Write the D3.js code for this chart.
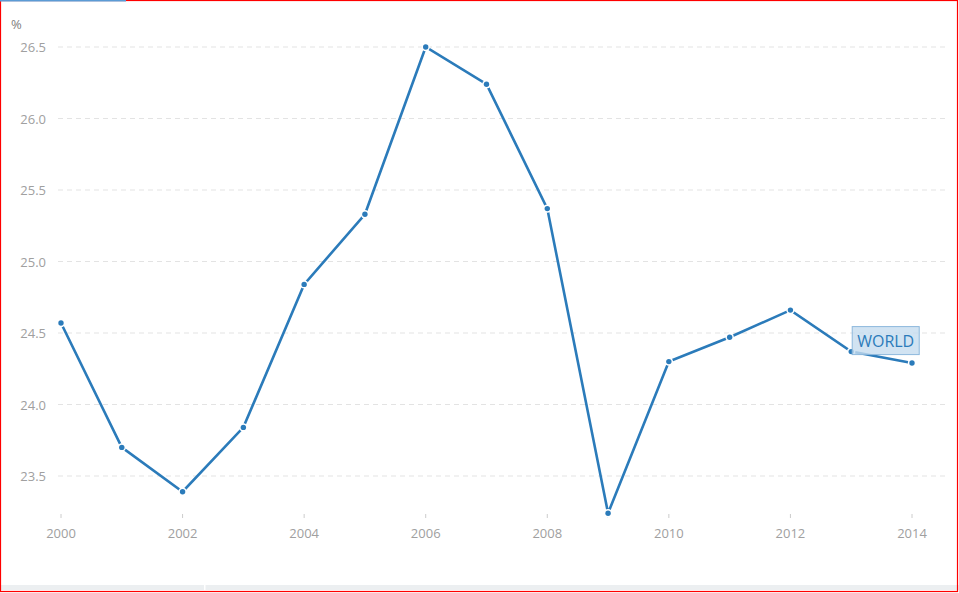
<!doctype html>
<html>
  <head>
    <meta charset="utf-8">
    <title>World line</title>
    <script src="https://d3js.org/d3.v7.min.js"></script>
    <style type="text/css">
      body { margin: 0; background-color: #ffffff; }
      svg { display: block; font-family: "Open Sans", sans-serif; }
    </style>
  </head>
  <body>
    <script>
// data
var years = [2000, 2001, 2002, 2003, 2004, 2005, 2006, 2007, 2008, 2009, 2010, 2011, 2012, 2013, 2014];
var values = [24.57, 23.70, 23.39, 23.84, 24.84, 25.33, 26.50, 26.24, 25.37, 23.24, 24.30, 24.47, 24.66, 24.37, 24.29];
var yTicks = [23.5, 24.0, 24.5, 25.0, 25.5, 26.0, 26.5];
var xTicks = [2000, 2002, 2004, 2006, 2008, 2010, 2012, 2014];
var seriesName = "WORLD";
var unit = "%";

var w = 959, h = 593;
var lineColor = "#2b7bba";

var svg = d3.select("body").append("svg")
  .attr("width", w)
  .attr("height", h);

// frame bits around the chart
svg.append("rect").attr("x", 0).attr("y", 585).attr("width", w).attr("height", 5).style("fill", "#eceff1");
svg.append("rect").attr("x", 204).attr("y", 585).attr("width", 1.5).attr("height", 5).style("fill", "#fff");
svg.append("rect").attr("x", 0.5).attr("y", 0.5).attr("width", 957).attr("height", 591)
  .style("fill", "none").style("stroke", "red").style("stroke-width", 1.2);
svg.append("rect").attr("x", 0).attr("y", 0).attr("width", 126).attr("height", 1.5).style("fill", "#5b9bd5");

var x = d3.scaleLinear().domain([2000, 2014]).range([61, 912]);
var y = d3.scaleLinear().domain([23.5, 26.5]).range([476, 47]);

// grid lines
svg.append("g").selectAll("line")
  .data(yTicks)
  .enter().append("line")
  .attr("x1", 58).attr("x2", 945)
  .attr("y1", function(d) { return y(d); })
  .attr("y2", function(d) { return y(d); })
  .style("stroke", "#e3e3e3")
  .style("stroke-width", 1.2)
  .style("stroke-dasharray", "5,4");

// y labels
svg.append("g").selectAll("text")
  .data(yTicks)
  .enter().append("text")
  .attr("x", 46)
  .attr("y", function(d) { return y(d) + 5; })
  .attr("text-anchor", "end")
  .style("font-size", "13px")
  .style("fill", "#a0a0a0")
  .text(function(d) { return d.toFixed(1); });

svg.append("text")
  .attr("x", 11).attr("y", 29)
  .style("font-size", "13px")
  .style("fill", "#808080")
  .text(unit);

// x axis ticks + labels
var xg = svg.append("g").selectAll("g")
  .data(xTicks)
  .enter().append("g")
  .attr("transform", function(d) { return "translate(" + x(d) + ",0)"; });
xg.append("line")
  .attr("y1", 514).attr("y2", 518)
  .style("stroke", "#cccccc");
xg.append("text")
  .attr("y", 538)
  .attr("text-anchor", "middle")
  .style("font-size", "13px")
  .style("fill", "#a0a0a0")
  .text(function(d) { return d; });

// the line
var pts = years.map(function(yr, i) { return [yr, values[i]]; });
var line = d3.line()
  .x(function(d) { return x(d[0]); })
  .y(function(d) { return y(d[1]); });

svg.append("path")
  .datum(pts)
  .attr("d", line)
  .style("fill", "none")
  .style("stroke", lineColor)
  .style("stroke-width", 2.6);

// white halo then solid dot
var dots = svg.append("g");
dots.selectAll("circle.halo")
  .data(pts)
  .enter().append("circle")
  .attr("class", "halo")
  .attr("cx", function(d) { return x(d[0]); })
  .attr("cy", function(d) { return y(d[1]); })
  .attr("r", 4.2)
  .style("fill", "#fff");
dots.selectAll("circle.dot")
  .data(pts)
  .enter().append("circle")
  .attr("class", "dot")
  .attr("cx", function(d) { return x(d[0]); })
  .attr("cy", function(d) { return y(d[1]); })
  .attr("r", 2.7)
  .style("fill", lineColor);

// series label near the end
var lx = x(2013) + 1, ly = y(values[13]) - 25;
svg.append("rect")
  .attr("x", lx).attr("y", ly)
  .attr("width", 67).attr("height", 28)
  .style("fill", "#c6dcef")
  .style("fill-opacity", 0.8)
  .style("stroke", "#8db8dc")
  .style("stroke-width", 1);
svg.append("text")
  .attr("x", lx + 33.5).attr("y", ly + 20)
  .attr("text-anchor", "middle")
  .style("font-size", "16px")
  .style("fill", lineColor)
  .text(seriesName);
    </script>
  </body>
</html>
